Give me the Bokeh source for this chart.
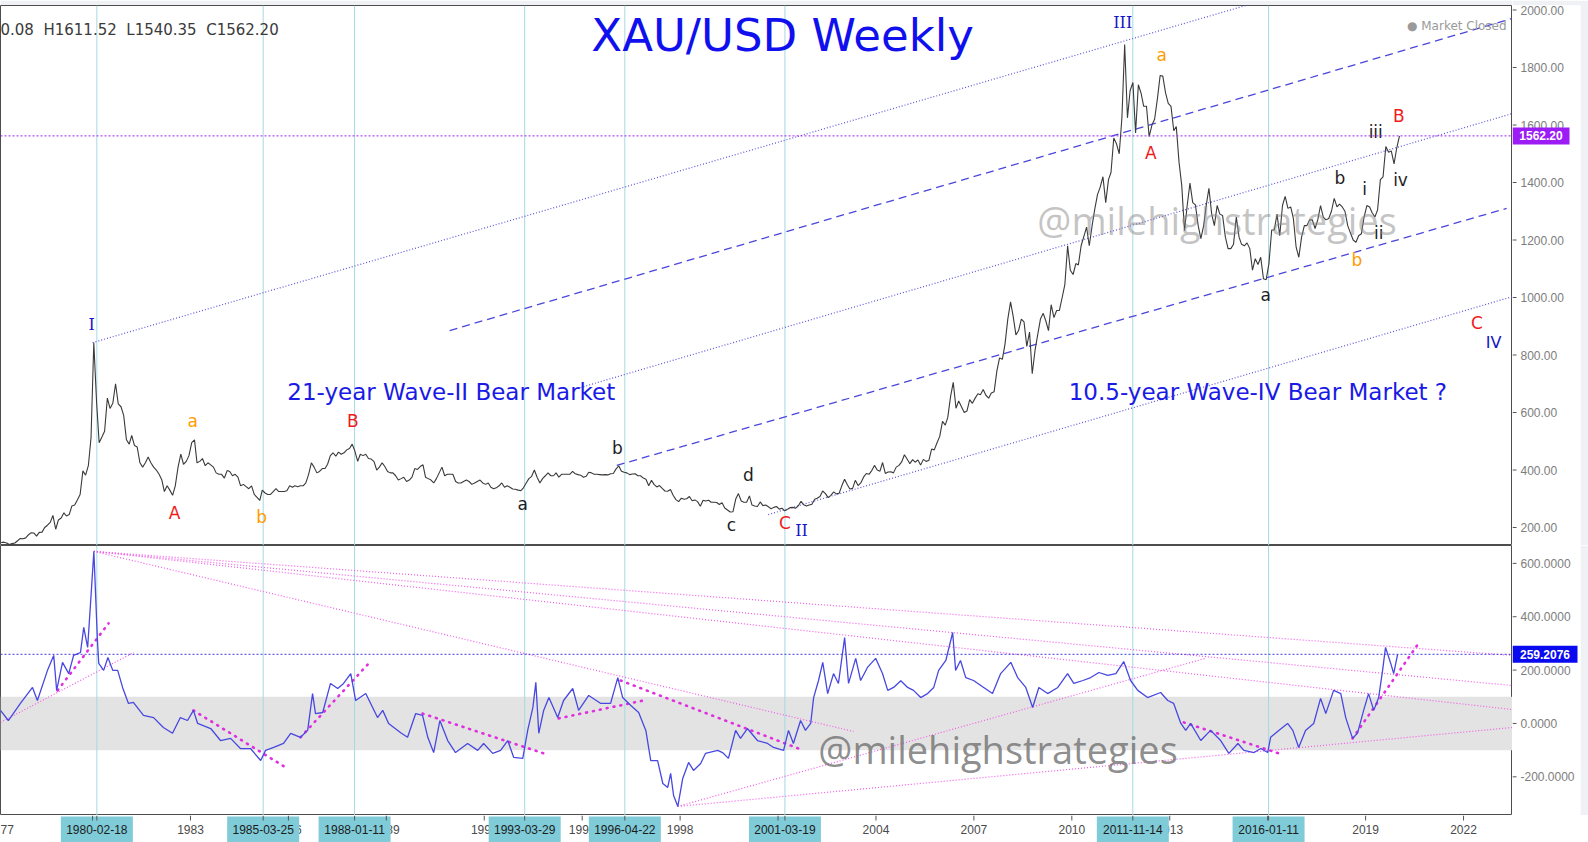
import pandas as pd
from bokeh.plotting import figure
from bokeh.models import Range1d, BoxAnnotation, Label, Span
from bokeh.layouts import column, row
from bokeh.embed import file_html
from bokeh.resources import INLINE
from bokeh.core.properties import value

# ---------------- data ----------------
price_start = "1977-03-01"   # monthly closes from March 1977
price_close = [
    # 1977 (Mar-Dec)
    148, 149, 146, 141, 144, 146, 154, 162, 161, 164,
    # 1978
    175, 182, 181, 170, 183, 184, 200, 208, 218, 242, 194, 226,
    # 1979
    233, 251, 240, 245, 275, 278, 296, 315, 397, 382, 415, 512,
    # 1980
    843, 637, 495, 515, 535, 650, 614, 632, 700, 630, 620, 590,
    # 1981
    505, 490, 520, 485, 480, 425, 410, 425, 445, 425, 410, 400,
    # 1982
    385, 365, 325, 345, 330, 312, 345, 410, 455, 420, 430, 450,
    # 1983
    495, 505, 425, 430, 440, 415, 425, 418, 410, 390, 385, 385,
    # 1984
    372, 398, 395, 380, 385, 375, 345, 350, 342, 335, 345, 315,
    # 1985
    305, 294, 330, 320, 315, 315, 325, 335, 325, 325, 325, 328,
    # 1986
    345, 340, 345, 342, 345, 345, 355, 385, 425, 410, 390, 395,
    # 1987
    405, 405, 420, 450, 460, 448, 462, 455, 460, 470, 475, 490,
    # 1988
    465, 430, 455, 450, 455, 440, 438, 430, 400, 410, 425, 412,
    # 1989
    395, 390, 390, 380, 365, 370, 375, 360, 365, 375, 405, 402,
    # 1990
    412, 418, 375, 370, 365, 355, 370, 390, 410, 380, 385, 385,
    # 1991
    385, 360, 355, 355, 360, 365, 360, 350, 355, 360, 365, 355,
    # 1992
    350, 355, 340, 335, 338, 345, 355, 340, 345, 340, 334, 333,
    # 1993
    330, 328, 338, 355, 370, 378, 400, 375, 355, 370, 380, 390,
    # 1994
    380, 380, 390, 375, 385, 385, 385, 385, 395, 387, 384, 382,
    # 1995
    375, 378, 392, 390, 385, 385, 384, 383, 384, 383, 387, 388,
    # 1996
    404, 414, 396, 392, 390, 384, 386, 387, 380, 380, 372, 368,
    # 1997
    345, 364, 350, 341, 346, 336, 327, 326, 332, 312, 297, 290,
    # 1998
    302, 298, 300, 308, 293, 296, 290, 274, 295, 292, 295, 288,
    # 1999
    288, 287, 280, 286, 268, 261, 254, 255, 299, 318, 292, 288,
    # 2000
    288, 310, 278, 275, 273, 289, 276, 278, 272, 265, 270, 273,
    # 2001
    264, 267, 258, 263, 269, 270, 267, 275, 291, 279, 275, 278,
    # 2002
    281, 298, 302, 308, 327, 318, 304, 312, 324, 317, 319, 345,
    # 2003
    368, 349, 334, 336, 364, 346, 355, 375, 388, 385, 398, 416,
    # 2004
    400, 396, 426, 388, 393, 394, 390, 410, 416, 428, 453, 438,
    # 2005
    422, 436, 427, 435, 417, 437, 430, 433, 473, 470, 495, 517,
    # 2006
    569, 556, 583, 655, 705, 615, 640, 620, 600, 605, 645, 632,
    # 2007
    650, 665, 662, 680, 660, 650, 668, 672, 745, 790, 785, 838,
    # 2008
    925, 985, 935, 870, 885, 925, 915, 830, 880, 735, 815, 870,
    # 2009
    925, 945, 920, 885, 975, 930, 955, 955, 1000, 1045, 1180, 1095,
    # 2010
    1080, 1118, 1113, 1180, 1212, 1245, 1180, 1248, 1308, 1358, 1385, 1420,
    # 2011
    1330, 1410, 1435, 1555, 1535, 1500, 1625, 1880, 1625, 1720, 1748, 1572,
    # 2012
    1740, 1710, 1665, 1665, 1560, 1600, 1620, 1690, 1772, 1770, 1712, 1675,
    # 2013
    1665, 1580, 1595, 1470, 1390, 1232, 1320, 1398, 1330, 1322, 1250, 1205,
    # 2014
    1250, 1325, 1380, 1290, 1250, 1320, 1290, 1285, 1210, 1170, 1170, 1185,
    # 2015
    1280, 1210, 1185, 1180, 1190, 1170, 1095, 1135, 1115, 1140, 1065, 1062,
    # 2016
    1118, 1235, 1235, 1290, 1215, 1320, 1352, 1310, 1315, 1275, 1175, 1140,
    # 2017
    1210, 1250, 1250, 1270, 1270, 1240, 1270, 1320, 1280, 1270, 1275, 1300,
    # 2018
    1345, 1315, 1325, 1315, 1300, 1250, 1225, 1200, 1192, 1215, 1222, 1280,
    # 2019
    1320, 1315, 1295, 1280, 1305, 1410, 1420, 1525, 1505, 1510, 1465, 1520,
    # 2020 (Jan)
    1562.20,
]

cci_years = [
    1977.18, 1977.42, 1977.79, 1978.16, 1978.31, 1978.62, 1978.81, 1978.90, 1979.08, 1979.27,
    1979.42, 1979.63, 1979.73, 1979.85, 1979.96, 1980.04, 1980.15, 1980.19, 1980.34, 1980.47,
    1980.62, 1980.77, 1980.92, 1981.10, 1981.25, 1981.56, 1981.87, 1982.17, 1982.45, 1982.69,
    1982.91, 1983.09, 1983.22, 1983.62, 1983.92, 1984.23, 1984.53, 1984.84, 1985.15, 1985.30,
    1985.55, 1985.85, 1986.07, 1986.37, 1986.59, 1986.74, 1986.83, 1987.05, 1987.29, 1987.51,
    1987.69, 1987.91, 1988.06, 1988.37, 1988.73, 1988.89, 1989.07, 1989.44, 1989.65, 1989.90,
    1990.11, 1990.27, 1990.45, 1990.64, 1990.88, 1991.12, 1991.49, 1991.80, 1991.98, 1992.26,
    1992.50, 1992.72, 1992.90, 1993.18, 1993.33, 1993.49, 1993.58, 1993.67, 1993.82, 1993.98,
    1994.25, 1994.43, 1994.71, 1994.89, 1995.20, 1995.57, 1995.87, 1996.09, 1996.24, 1996.49,
    1996.73, 1996.95, 1997.10, 1997.31, 1997.47, 1997.62, 1997.71, 1997.80, 1997.93, 1998.08,
    1998.26, 1998.41, 1998.63, 1998.78, 1999.15, 1999.30, 1999.48, 1999.70, 1999.85, 2000.06,
    2000.37, 2000.68, 2000.86, 2001.17, 2001.32, 2001.47, 2001.69, 2001.84, 2002.00, 2002.09,
    2002.24, 2002.37, 2002.52, 2002.70, 2002.85, 2003.04, 2003.16, 2003.38, 2003.53, 2003.74,
    2003.99, 2004.20, 2004.36, 2004.54, 2004.76, 2004.97, 2005.15, 2005.37, 2005.58, 2005.77,
    2005.92, 2006.14, 2006.35, 2006.44, 2006.59, 2006.75, 2006.99, 2007.30, 2007.57, 2007.82,
    2008.13, 2008.34, 2008.59, 2008.80, 2008.99, 2009.26, 2009.57, 2009.87, 2010.06, 2010.34,
    2010.58, 2010.83, 2011.10, 2011.35, 2011.59, 2011.80, 2012.02, 2012.32, 2012.72, 2012.94,
    2013.12, 2013.34, 2013.49, 2013.64, 2013.95, 2014.25, 2014.56, 2014.81, 2015.09, 2015.27,
    2015.58, 2015.79, 2016.00, 2016.09, 2016.34, 2016.61, 2016.77, 2016.95, 2017.16, 2017.41,
    2017.62, 2017.78, 2018.02, 2018.24, 2018.39, 2018.60, 2018.75, 2018.94, 2019.09, 2019.25,
    2019.40, 2019.52, 2019.61, 2019.77, 2019.86, 2019.98,
]
cci_values = [
    49, 11, 75, 135, 86, 199, 255, 124, 229, 187,
    255, 266, 360, 285, 491, 645, 311, 225, 199, 247,
    199, 199, 135, 75, 79, 30, 22, -15, -37, 22,
    11, 49, 0, -19, -64, -56, -94, -94, -139, -101,
    -90, -75, -37, -52, -26, 112, 37, 41, 150, 131,
    150, 187, 86, 112, 22, 49, 0, -35, -52, 37,
    30, -52, -109, 11, -64, -109, -75, -101, -75, -112,
    -101, -64, -127, -131, -26, 60, 154, -37, 49, 97,
    22, 86, 131, 49, 105, 75, 75, 172, 97, 67,
    41, -26, -139, -139, -225, -240, -187, -270, -311, -206,
    -146, -176, -150, -112, -101, -109, -131, -26, -56, -19,
    -64, -75, -90, -101, -26, -75, 11, -26, 0, 97,
    161, 229, 112, 187, 150, 322, 150, 244, 161, 210,
    244, 187, 124, 135, 160, 135, 124, 97, 112, 135,
    199, 236, 341, 199, 236, 172, 161, 135, 112, 187,
    229, 172, 135, 60, 135, 112, 135, 187, 150, 161,
    172, 191, 180, 187, 232, 161, 124, 97, 116, 86,
    75, 0, -26, 0, -64, -26, -64, -112, -75, -101,
    -109, -94, -109, -52, -26, 0, -26, -90, -26, 0,
    94, 37, 124, 112, 22, -56, -37, 49, 112, 49,
    97, 199, 285, 225, 187, 259.21,
]

last_close = 1562.20
last_cci = 259.2076
ohlc_text = "0.08\u00a0\u00a0H1611.52\u00a0\u00a0L1540.35\u00a0\u00a0C1562.20"

marked_dates = ["1980-02-18", "1985-03-25", "1988-01-11", "1993-03-29",
                "1996-04-22", "2001-03-19", "2011-11-14", "2016-01-11"]
year_ticks = [1980, 1983, 1986, 1989, 1992, 1995, 1998, 2001, 2004, 2007, 2010, 2013, 2016, 2019, 2022]
edge_year_label = "77"          # 1977 label, cut by the left edge in the original
price_ticks = [200, 400, 600, 800, 1000, 1200, 1400, 1600, 1800, 2000]
cci_ticks = [-200, 0, 200, 400, 600]

# Elliott wave labels (date, price)
wave_blue_text = ["I", "II", "III"]
wave_blue_x = [1979.97, 2001.72, 2011.56]
wave_blue_y = [906, 190, 1957]
wave_iv_text = ["IV"]
wave_iv_x = [2022.92]
wave_iv_y = [843]
wave_text = ["A", "B", "C", "A", "B", "C",
             "a", "b", "a", "b",
             "a", "b", "c", "d", "a", "b", "i", "ii", "iii", "iv"]
wave_x = [1982.51, 1987.97, 2001.21, 2012.42, 2020.02, 2022.41,
          1983.07, 1985.18, 2012.75, 2018.73,
          1993.18, 1996.08, 1999.57, 2000.09, 2015.94, 2018.21, 2018.97, 2019.40, 2019.31, 2020.07]
wave_y = [249, 569, 214, 1504, 1633, 910,
          572, 238, 1845, 1132,
          283, 478, 207, 384, 1010, 1417, 1379, 1226, 1574, 1410]
wave_kind = ["red"] * 6 + ["orange"] * 4 + ["black"] * 10

# price channel lines (date, price)
chan_x0 = [1980.00, 1990.94, 1994.95, 1996.06, 2000.70]
chan_y0 = [843, 885, 687, 416, 245]
chan_x1 = [2023.50, 2023.47, 2023.50, 2023.32, 2023.50]
chan_y1 = [2287, 1970, 1640, 1310, 1003]
chan_kind = ["dot", "dash", "dot", "dash", "dot"]

# CCI trend lines (date, value)
thin_x0 = [1980.04, 1980.04, 1980.04, 1980.04, 1997.93, 1997.93, 1977.18]
thin_y0 = [645, 645, 645, 645, -311, -311, 4]
thin_x1 = [2023.50, 2023.50, 2023.50, 2003.31, 2014.09, 2023.50, 1981.26]
thin_y1 = [255, 142, 52, -30, 244, -15, 266]
dots_x0 = [1978.93, 1983.09, 1986.37, 1990.11, 1994.28, 1996.18, 2013.43, 2018.60]
dots_y0 = [124, 49, -52, 37, 19, 161, 4, -56]
dots_x1 = [1980.49, 1985.97, 1988.46, 1993.82, 1996.88, 2001.78, 2016.34, 2020.62]
dots_y1 = [375, -169, 225, -112, 86, -101, -112, 300]


def dec_year(ts):
    ts = pd.Timestamp(ts)
    days = 366 if ts.is_leap_year else 365
    return ts.year + (ts.dayofyear - 1) / days


price_dates = [dec_year(d) for d in
               pd.date_range(price_start, periods=len(price_close), freq="MS") + pd.Timedelta(days=14)]
marked_x = [dec_year(d) for d in marked_dates]

# ---------------- layout constants ----------------
FW = 1512
AXW = 68
EDGE = 8
X0, X1 = 1977.18, 2023.50
X_RANGE = Range1d(X0, X1)
SANS = "DejaVu Sans"
AXF = "Liberation Sans"
PAGE_GRAY = "#eff1f4"
Y_TOP = Range1d(137.4, 2015.7)
Y_BOT = Range1d(-345, 667)


def main_fig(h, yr, top_border=0):
    p = figure(frame_width=FW, frame_height=h, x_range=X_RANGE, y_range=yr,
               x_axis_location=None, y_axis_location=None,
               output_backend="svg", toolbar_location=None,
               min_border_left=0, min_border_right=0, min_border_top=top_border,
               min_border_bottom=0, background_fill_color="white", border_fill_color=PAGE_GRAY,
               outline_line_color="#4d4d4d")
    p.grid.visible = False
    return p


def axis_fig(h, yr, ticks, decimals, last, box_w, box_color, top_border=0):
    a = figure(frame_width=AXW, frame_height=h, x_range=Range1d(0, AXW), y_range=yr,
               x_axis_location=None, y_axis_location=None,
               output_backend="svg", toolbar_location=None,
               min_border_left=0, min_border_right=EDGE, min_border_top=top_border,
               min_border_bottom=0, background_fill_color="white", border_fill_color=PAGE_GRAY,
               outline_line_color=None)
    a.grid.visible = False
    n = len(ticks)
    a.segment(x0=[0] * n, y0=ticks, x1=[4] * n, y1=ticks, line_color="#555555", line_width=1)
    a.text(x=[8] * n, y=ticks, text=[f"{t:.{decimals}f}" for t in ticks], text_color="#7d7d7d",
           text_font=value(AXF), text_font_size="12px", text_align="left", text_baseline="middle")
    a.rect(x=[box_w / 2], y=[last], width=box_w, height=17, height_units="screen",
           fill_color=box_color, line_color=None)
    a.text(x=[box_w / 2], y=[last], text=[f"{last:.{decimals}f}"], text_color="white",
           text_font=value(AXF), text_font_size="12px", text_font_style="bold",
           text_align="center", text_baseline="middle")
    return a


# ---------------- top: price ----------------
top = main_fig(540, Y_TOP, top_border=5)
for d in marked_x:
    top.add_layout(Span(location=d, dimension="height", line_color="#a6d8e2", line_width=1, level="underlay"))
top.add_layout(Span(location=last_close, dimension="width", line_color="#a020f0", line_width=1,
                    line_dash="2 2"))

for kind, dash, col, lw in [("dot", "1 2", "#5a55dc", 1.2), ("dash", "8 5", "#4a46dc", 1.3)]:
    idx = [i for i, k in enumerate(chan_kind) if k == kind]
    top.segment(x0=[chan_x0[i] for i in idx], y0=[chan_y0[i] for i in idx],
                x1=[chan_x1[i] for i in idx], y1=[chan_y1[i] for i in idx],
                line_color=col, line_width=lw, line_dash=dash)

top.line(price_dates, price_close, line_color="#3a3a3a", line_width=1.1)

colors = {"red": "#f01a1a", "orange": "#ff9c00", "black": "#1e1e1e"}
top.text(x=wave_x, y=wave_y, text=wave_text, text_color=[colors[k] for k in wave_kind],
         text_font=value(SANS), text_font_size="17px", text_align="center", text_baseline="middle")
top.text(x=wave_blue_x, y=wave_blue_y, text=wave_blue_text, text_color="#1414c8",
         text_font=value("DejaVu Serif"), text_font_size="16px", text_align="center", text_baseline="middle")
top.text(x=wave_iv_x, y=wave_iv_y, text=wave_iv_text, text_color="#1414c8",
         text_font=value(SANS), text_font_size="16px", text_align="center", text_baseline="middle")

top.add_layout(Label(x=2001.14, y=1911, text="XAU/USD Weekly", text_color="#1010ee",
                     text_font=SANS, text_font_size="45px", text_align="center", text_baseline="middle"))
top.add_layout(Label(x=1990.99, y=670, text="21-year Wave-II Bear Market", text_color="#1a1ae6",
                     text_font=SANS, text_font_size="23px", text_align="center", text_baseline="middle"))
top.add_layout(Label(x=2015.70, y=670, text="10.5-year Wave-IV Bear Market ?", text_color="#1a1ae6",
                     text_font=SANS, text_font_size="23px", text_align="center", text_baseline="middle"))
top.add_layout(Label(x=2014.45, y=1271, text="@milehighstrategies", text_color="#8a8a8a", text_alpha=0.5,
                     text_font="Open Sans", text_font_size="38px", text_align="center", text_baseline="middle"))
top.add_layout(Label(x=X0, y=1932, text=ohlc_text, text_color="#3a3a3a",
                     text_font=SANS, text_font_size="15px", text_align="left", text_baseline="middle"))
top.add_layout(Label(x=2023.32, y=1943, text="\u25cf Market Closed", text_color="#9a9a9a",
                     text_font=SANS, text_font_size="12px", text_align="right", text_baseline="middle"))

topax = axis_fig(540, Y_TOP, price_ticks, 2, last_close, 57, "#9b1cf5", top_border=5)

# ---------------- bottom: CCI ----------------
bot = main_fig(270, Y_BOT)
bot.add_layout(BoxAnnotation(bottom=-100, top=100, fill_color="#e3e3e3", fill_alpha=1.0,
                             line_color=None, level="underlay"))
for d in marked_x:
    bot.add_layout(Span(location=d, dimension="height", line_color="#a6d8e2", line_width=1, level="underlay"))
bot.add_layout(Span(location=last_cci, dimension="width", line_color="#3a3ae0", line_width=1, line_dash="2 2"))

bot.segment(x0=thin_x0, y0=thin_y0, x1=thin_x1, y1=thin_y1, line_color="#f25ae8",
            line_width=1.2, line_dash="1 2")
bot.segment(x0=dots_x0, y0=dots_y0, x1=dots_x1, y1=dots_y1, line_color="#e02ee0",
            line_width=2.6, line_dash="1 6", line_cap="round")
bot.line(cci_years, cci_values, line_color="#4848e0", line_width=1.3)

bot.add_layout(Label(x=2007.74, y=-97, text="@milehighstrategies", text_color="#707070", text_alpha=0.8,
                     text_font="Open Sans", text_font_size="38px", text_align="center", text_baseline="middle"))

botax = axis_fig(270, Y_BOT, cci_ticks, 4, last_cci, 65, "#0a0af0")

# ---------------- date strip ----------------
strip = figure(frame_width=FW, frame_height=27, x_range=X_RANGE, y_range=Range1d(0, 27),
               x_axis_location=None, y_axis_location=None, output_backend="svg", toolbar_location=None,
               min_border_left=0, min_border_right=AXW + EDGE, min_border_top=0, min_border_bottom=0,
               outline_line_color=None, background_fill_color="white", border_fill_color="white")
strip.grid.visible = False
strip.text(x=year_ticks, y=[13] * len(year_ticks), text=[str(y) for y in year_ticks],
           text_color="#4a4a4a", text_font=value(AXF), text_font_size="12px",
           text_align="center", text_baseline="middle")
strip.text(x=[X0], y=[13], text=[edge_year_label], text_color="#4a4a4a", text_font=value(AXF),
           text_font_size="12px", text_align="left", text_baseline="middle")
strip.rect(x=marked_x, y=[13] * len(marked_x), width=72, width_units="screen", height=26,
           fill_color="#7fcbd8", line_color=None)
strip.text(x=marked_x, y=[13] * len(marked_x), text=marked_dates,
           text_color="#1c1c1c", text_font=value(AXF), text_font_size="12px",
           text_align="center", text_baseline="middle")
all_ticks = year_ticks + marked_x
strip.segment(x0=all_ticks, y0=[27] * len(all_ticks), x1=all_ticks, y1=[22] * len(all_ticks),
              line_color="#555555", line_width=1)

layout = column(row(top, topax, spacing=0), row(bot, botax, spacing=0), strip, spacing=0)
open("out.html", "w").write(file_html(layout, INLINE))
